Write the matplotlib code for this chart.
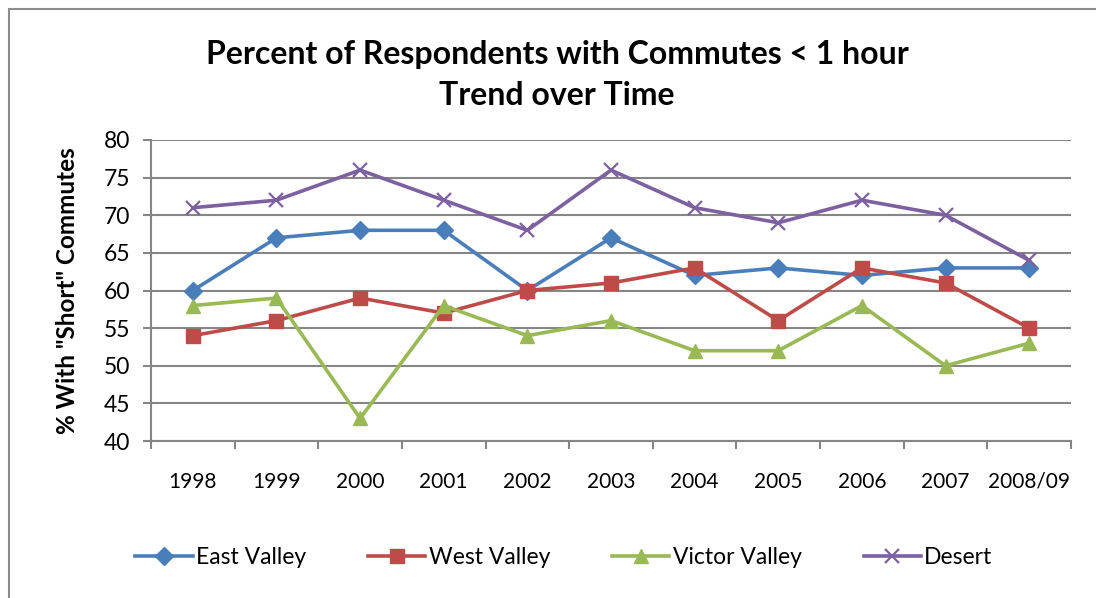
import numpy as np
import matplotlib.pyplot as plt
from matplotlib.patches import Rectangle

years = ["1998", "1999", "2000", "2001", "2002", "2003", "2004", "2005", "2006", "2007", "2008/09"]
east_valley = [60, 67, 68, 68, 60, 67, 62, 63, 62, 63, 63]
west_valley = [54, 56, 59, 57, 60, 61, 63, 56, 63, 61, 55]
victor_valley = [58, 59, 43, 58, 54, 56, 52, 52, 58, 50, 53]
desert = [71, 72, 76, 72, 68, 76, 71, 69, 72, 70, 64]

plt.rcParams["font.family"] = ["Lato", "DejaVu Sans"]

fig = plt.figure(figsize=(10.96, 5.98), dpi=100)
ax = fig.add_axes([151 / 1096, 1 - 441 / 598, 920 / 1096, 301 / 598])

# outer chart border like the Excel chart area
fig.patches.append(Rectangle((9 / 1096, -0.1), 1.2, 1 - 9 / 598 + 0.1, transform=fig.transFigure,
                             fill=False, edgecolor="#8c8c8c", linewidth=1.5))

x = np.arange(len(years))
series = [
    ("East Valley", east_valley, "#4a7ebb", "D", 9, 1),
    ("West Valley", west_valley, "#be4b48", "s", 10, 1),
    ("Victor Valley", victor_valley, "#98b954", "^", 10, 1),
    ("Desert", desert, "#7d60a0", "x", 10, 1.6),
]
for name, vals, col, mk, ms, mew in series:
    ax.plot(x, vals, color=col, linewidth=2.6, marker=mk, markersize=ms,
            markeredgewidth=mew, markeredgecolor=col, markerfacecolor=col, label=name)

ax.set_xlim(-0.5, len(years) - 0.5)
ax.set_ylim(40, 80)
ax.set_yticks(range(40, 81, 5))
ax.set_xticks(x)
ax.set_xticklabels(years)
ax.set_xticks(np.arange(-0.5, len(years)), minor=True)
ax.tick_params(axis="x", which="major", length=0, pad=22, labelsize=15)
ax.tick_params(axis="x", which="minor", length=6, width=1.5, color="#868686")
ax.tick_params(axis="y", length=6, width=1.5, color="#868686", pad=9, labelsize=16.5)

ax.grid(axis="y", color="#868686", linewidth=1.5)
ax.set_axisbelow(True)
for side in ["top", "right"]:
    ax.spines[side].set_visible(False)
for side in ["left", "bottom"]:
    ax.spines[side].set_color("#868686")
    ax.spines[side].set_linewidth(1.5)

ax.set_ylabel('% With "Short" Commutes', fontsize=17.5, fontweight="bold", labelpad=18)
fig.text(557 / 1096, 1 - 75 / 598, "Percent of Respondents with Commutes < 1 hour\nTrend over Time",
         ha="center", va="center", fontsize=23, fontweight="bold", linespacing=1.5)

fig.legend(loc="center", bbox_to_anchor=(564 / 1096, 1 - 558 / 598), ncol=4, frameon=False,
           fontsize=16.5, handlelength=2.5, columnspacing=2.7, handletextpad=0.15)

fig.savefig("out.png", dpi=100)
